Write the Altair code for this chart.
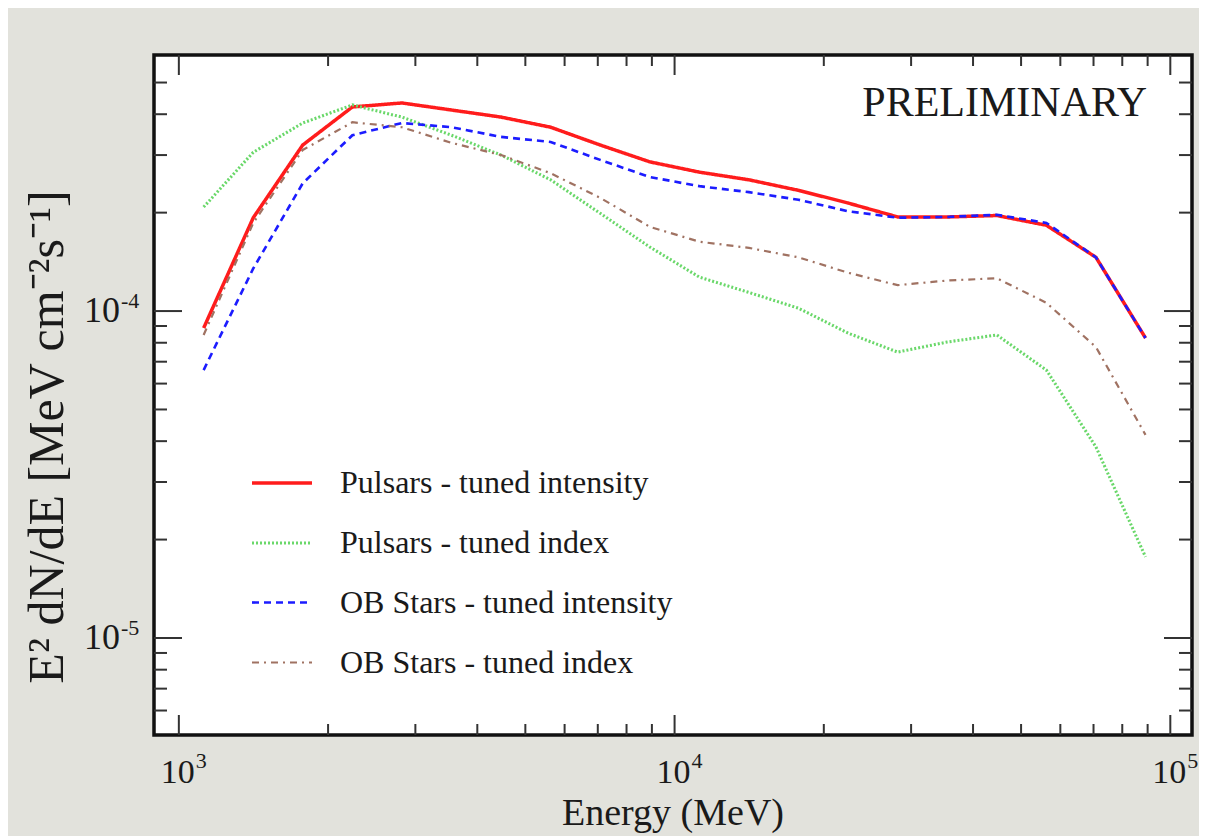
import altair as alt
import pandas as pd

# ---- data ----
energy = [1122, 1413, 1778, 2239, 2818, 3548, 4467, 5623, 7079, 8913,
          11220, 14125, 17783, 22387, 28184, 35481, 44668, 56234, 70795, 89125]
pulsars_intensity = [8.87e-5, 1.93e-4, 3.22e-4, 4.21e-4, 4.33e-4, 4.12e-4, 3.92e-4, 3.65e-4, 3.22e-4, 2.86e-4,
                     2.66e-4, 2.52e-4, 2.34e-4, 2.14e-4, 1.94e-4, 1.94e-4, 1.96e-4, 1.83e-4, 1.46e-4, 8.27e-5]
pulsars_index = [2.08e-4, 3.06e-4, 3.76e-4, 4.27e-4, 3.92e-4, 3.45e-4, 3.00e-4, 2.52e-4, 1.99e-4, 1.57e-4,
                 1.27e-4, 1.14e-4, 1.02e-4, 8.56e-5, 7.49e-5, 8.04e-5, 8.45e-5, 6.60e-5, 3.84e-5, 1.77e-5]
ob_intensity = [6.60e-5, 1.35e-4, 2.46e-4, 3.45e-4, 3.76e-4, 3.65e-4, 3.41e-4, 3.29e-4, 2.90e-4, 2.57e-4,
                2.41e-4, 2.31e-4, 2.19e-4, 2.02e-4, 1.93e-4, 1.94e-4, 1.97e-4, 1.86e-4, 1.46e-4, 8.27e-5]
ob_index = [8.45e-5, 1.86e-4, 3.11e-4, 3.78e-4, 3.65e-4, 3.27e-4, 3.00e-4, 2.64e-4, 2.22e-4, 1.81e-4,
            1.63e-4, 1.56e-4, 1.46e-4, 1.31e-4, 1.20e-4, 1.24e-4, 1.26e-4, 1.06e-4, 7.76e-5, 4.18e-5]

series_names = ["Pulsars - tuned intensity", "Pulsars - tuned index",
                "OB Stars - tuned intensity", "OB Stars - tuned index"]
series_values = [pulsars_intensity, pulsars_index, ob_intensity, ob_index]

x_major = [1000, 10000, 100000]
x_minor = [2000, 3000, 4000, 5000, 6000, 7000, 8000, 9000,
           20000, 30000, 40000, 50000, 60000, 70000, 80000, 90000]
x_exp = ["3", "4", "5"]
y_major = [1e-5, 1e-4]
y_minor = [6e-6, 7e-6, 8e-6, 9e-6, 2e-5, 3e-5, 4e-5, 5e-5, 6e-5, 7e-5, 8e-5, 9e-5,
           2e-4, 3e-4, 4e-4, 5e-4]
y_exp = ["-5", "-4"]

# ---- styles ----
colors = ["#ff1c1c", "#6ad86a", "#1c1cff", "#a07262"]
dashes = [[1, 0], [2, 2], [7, 5], [7, 5, 2, 5]]
widths = [3.5, 2.2, 4, 3.2]
FONT = "Liberation Serif"
TXT = "#1a1a1a"
W, H = 1038, 680

rows = []
for name, vals in zip(series_names, series_values):
    for e, v in zip(energy, vals):
        rows.append({"energy": e, "flux": v, "series": name})
df = pd.DataFrame(rows)

xscale = alt.Scale(type="log", domain=[891, 110600], nice=False)
yscale = alt.Scale(type="log", domain=[5.05e-6, 6.07e-4], nice=False)

leg = alt.Legend(orient="none", legendX=96, legendY=396, title=None,
                 symbolType="stroke", symbolSize=3600,
                 labelFont=FONT, labelFontSize=32, labelColor=TXT,
                 labelOffset=26, rowPadding=12, labelLimit=700)

lines = alt.Chart(df).mark_line(clip=True).encode(
    x=alt.X("energy:Q", scale=xscale, axis=None),
    y=alt.Y("flux:Q", scale=yscale, axis=None),
    color=alt.Color("series:N", scale=alt.Scale(domain=series_names, range=colors), legend=leg),
    strokeDash=alt.StrokeDash("series:N", scale=alt.Scale(domain=series_names, range=dashes), legend=leg),
    strokeWidth=alt.StrokeWidth("series:N", scale=alt.Scale(domain=series_names, range=widths), legend=leg),
    order=alt.Order("energy:Q"),
)

def xticks(vals, length):
    d = pd.DataFrame({"v": vals})
    bottom = alt.Chart(d).mark_rule(color="#333", strokeWidth=2).encode(
        x=alt.X("v:Q", scale=xscale, axis=None), y=alt.value(H), y2=alt.value(H - length))
    top = alt.Chart(d).mark_rule(color="#333", strokeWidth=2).encode(
        x=alt.X("v:Q", scale=xscale, axis=None), y=alt.value(0), y2=alt.value(length))
    return [bottom, top]

def yticks(vals, length):
    d = pd.DataFrame({"v": vals})
    left = alt.Chart(d).mark_rule(color="#333", strokeWidth=2).encode(
        y=alt.Y("v:Q", scale=yscale, axis=None), x=alt.value(0), x2=alt.value(length))
    right = alt.Chart(d).mark_rule(color="#333", strokeWidth=2).encode(
        y=alt.Y("v:Q", scale=yscale, axis=None), x=alt.value(W), x2=alt.value(W - length))
    return [left, right]

ticks = xticks(x_major, 20) + xticks(x_minor, 11) + yticks(y_major, 28) + yticks(y_minor, 13)

xl = pd.DataFrame({"v": x_major, "e": x_exp})
x_base = alt.Chart(xl).mark_text(align="right", baseline="alphabetic", dx=16,
                                 font=FONT, fontSize=34, color=TXT).encode(
    x=alt.X("v:Q", scale=xscale, axis=None), y=alt.value(H + 48), text=alt.value("10"))
x_sup = alt.Chart(xl).mark_text(align="left", baseline="alphabetic", dx=17,
                                font=FONT, fontSize=22, color=TXT).encode(
    x=alt.X("v:Q", scale=xscale, axis=None), y=alt.value(H + 33), text="e:N")

yl = pd.DataFrame({"v": y_major, "e": y_exp})
y_base = alt.Chart(yl).mark_text(align="right", baseline="middle",
                                 font=FONT, fontSize=36, color=TXT).encode(
    y=alt.Y("v:Q", scale=yscale, axis=None), x=alt.value(-34), text=alt.value("10"))
y_sup = alt.Chart(yl).mark_text(align="left", baseline="alphabetic", dy=-3,
                                font=FONT, fontSize=22, color=TXT).encode(
    y=alt.Y("v:Q", scale=yscale, axis=None), x=alt.value(-33), text="e:N")

x_title = alt.Chart(pd.DataFrame({"t": ["Energy (MeV)"]})).mark_text(
    align="center", baseline="alphabetic", font=FONT, fontSize=38, color=TXT).encode(
    x=alt.value(W / 2), y=alt.value(H + 90), text="t:N")
y_title = alt.Chart(pd.DataFrame({"t": ["E\u00b2 dN/dE [MeV cm\u207b\u00b2s\u207b\u00b9]"]})).mark_text(
    align="center", baseline="middle", angle=270, font=FONT, fontSize=50, color=TXT).encode(
    x=alt.value(-106), y=alt.value(382), text="t:N")
prelim = alt.Chart(pd.DataFrame({"t": ["PRELIMINARY"]})).mark_text(
    align="right", baseline="alphabetic", font=FONT, fontSize=42, color=TXT).encode(
    x=alt.value(993), y=alt.value(61), text="t:N")

chart = alt.layer(*ticks, lines, x_base, x_sup, y_base, y_sup, x_title, y_title, prelim).properties(
    width=W, height=H,
    background="#e2e2dc",
    autosize=alt.AutoSizeParams(type="none"),
    padding={"left": 146, "top": 47, "right": 7, "bottom": 101},
).configure_view(fill="white", stroke="#111", strokeWidth=3.5
).configure_legend(labelFont=FONT, labelFontSize=32, labelColor=TXT)

chart.save("out.html", embed_options={"renderer": "svg", "actions": False})
